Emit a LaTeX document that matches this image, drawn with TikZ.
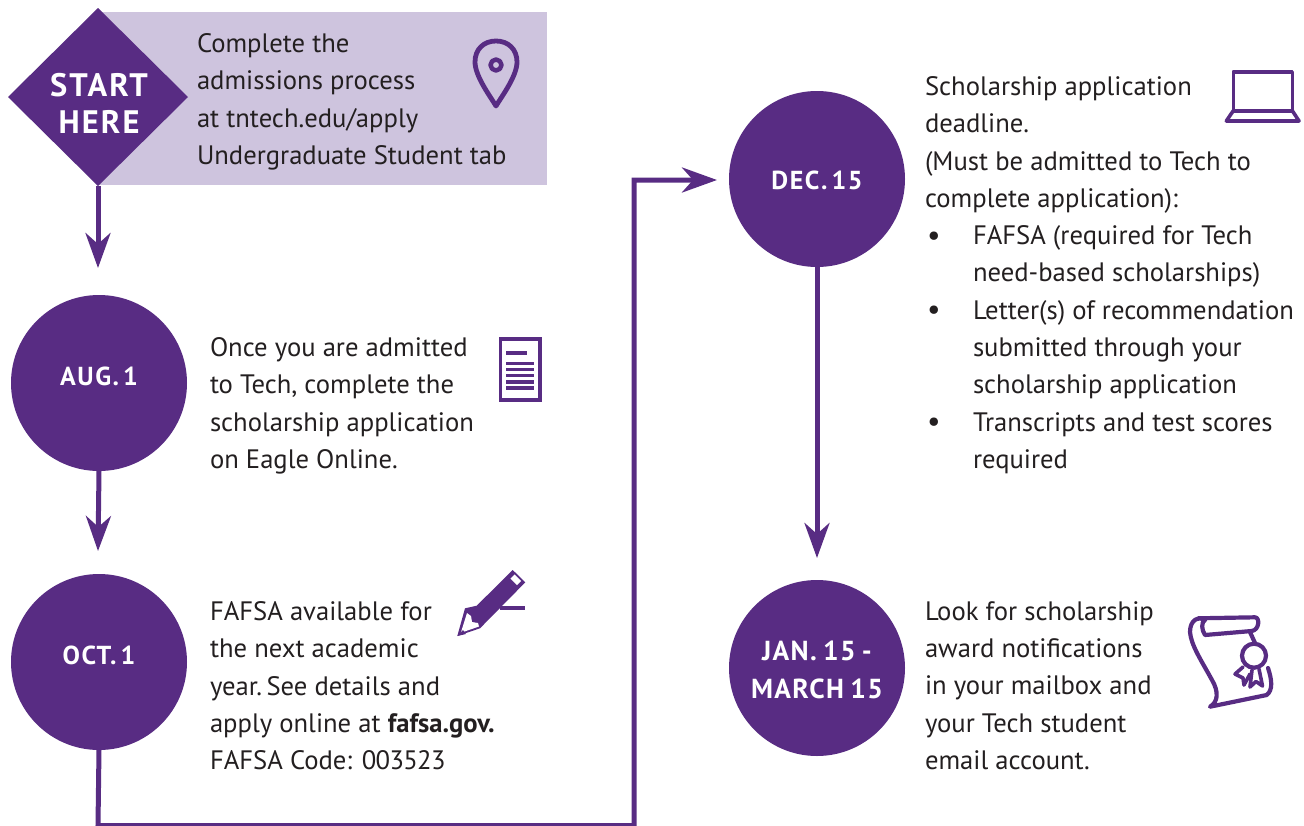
\documentclass[tikz,border=0pt]{standalone}
\usepackage{fontspec}
\setmainfont{PT Sans}
\newfontfamily\labfam[WordSpace=0.5,LetterSpace=6]{PT Sans}
\newfontfamily\janfam[WordSpace=0.75,LetterSpace=5]{PT Sans}
\newfontfamily\bigfam[LetterSpace=6.5]{PT Sans}
\usetikzlibrary{shapes.geometric,arrows.meta}
\definecolor{tpurple}{HTML}{582C83}
\definecolor{tlilac}{HTML}{CEC4DE}
\definecolor{tink}{HTML}{231F20}
\newcommand{\bodyfont}{\fontsize{26.65}{37.3}\selectfont}
\newcommand{\labfont}{\labfam\fontsize{26}{38}\selectfont\bfseries}
\newcommand{\janfont}{\janfam\fontsize{27.5}{38}\selectfont\bfseries}
\newcommand{\bigfont}{\bigfam\fontsize{32.5}{37}\selectfont\bfseries}
\newcommand{\bul}{\hspace*{2pt}\makebox[46pt][l]{\raisebox{-0.5pt}{\fontsize{30}{30}\selectfont•}}}
\tikzset{
  every node/.style={inner sep=0pt,outer sep=0pt},
  body/.style={anchor=north west,align=left,text=tink,font=\bodyfont},
  datecircle/.style={circle,fill=tpurple,minimum size=176pt},
  datelabel/.style={text=white,align=center,font=\labfont},
  startdiamond/.style={diamond,aspect=1,fill=tpurple,minimum width=180pt,minimum height=178pt},
  startlabel/.style={text=white,align=center,font=\bigfont},
  flow/.style={draw=tpurple,line width=5pt,-{Stealth[length=35pt,width=25pt,inset=11pt]}},
  icon/.style={draw=tpurple,line width=4.2pt,line join=round,line cap=round}
}
\begin{document}
\begin{tikzpicture}[x=1pt,y=-1pt]
\useasboundingbox (0,0) rectangle (1304,825);
% band
\fill[tlilac] (98,12) rectangle (547,185);
% shapes
\node[startdiamond] (start) at (98,97) {};
\node[datecircle] (aug) at (99,383) {};
\node[datecircle] (oct) at (99,662) {};
\node[datecircle] (dec) at (817,179) {};
\node[datecircle] (jan) at (817,668) {};
% shape labels
\node[startlabel] (l-start) at ([yshift=-6pt,xshift=1pt]start.center) {START\\HERE};
\node[datelabel] (l-aug) at ([yshift=7pt]aug.center) {AUG. 1};
\node[datelabel] (l-oct) at ([yshift=7pt]oct.center) {OCT. 1};
\node[datelabel] (l-dec) at ([yshift=-1pt]dec.center) {DEC. 15};
\node[datelabel,font=\janfont] (l-jan) at ([yshift=-2pt]jan.center) {JAN. 15 -\\MARCH 15};
% free ends
\coordinate (t1) at (98,268);
\coordinate (t2) at (98,551);
\coordinate (t3) at (817,558);
\coordinate (t4) at (717,180);
\coordinate (c1) at (98,825.5);
\coordinate (c2) at (634,825.5);
\coordinate (c3) at (634,180);
% connectors
\draw[flow] (start.south) -- (t1);
\draw[flow] (aug.south) -- (t2);
\draw[flow] (dec.south) -- (t3);
\draw[flow,line join=miter] (oct.south) -- (c1) -- (c2) -- (c3) -- (t4);
% text
\node[body] (t-start) at (197,33.5) {Complete the\\admissions process\\at tntech.edu/apply\\Undergraduate Student tab};
\node[body] (t-aug) at (210,337.5) {Once you are admitted\\to Tech, complete the\\scholarship application\\on Eagle Online.};
\node[body] (t-oct) at (210,601.5) {FAFSA available for\\the next academic\\year.\hspace{4.5pt}See details and\\apply online at \textbf{fafsa.gov.}\\FAFSA Code: {\addfontfeature{LetterSpace=-2.5}003523}};
\node[body] (t-dec) at (925,76.5) {Scholarship application\\deadline.\\(Must be admitted to Tech to\\complete application):\\
\bul FAFSA (required for Tech\\\hspace*{48pt}need-based scholarships)\\
\bul Letter(s) of recommendation\\\hspace*{48pt}submitted through your\\\hspace*{48pt}scholarship application\\
\bul Transcripts and test scores\\\hspace*{48pt}required};
\node[body] (t-jan) at (925,601.5) {Look for scholarship\\award notifications\\in your mailbox and\\your Tech student\\email account.};
% pin icon
\draw[icon,line width=4.8pt] (496,106) .. controls (490,96) and (475,76) .. (475,62) .. controls (475,49) and (484,41) .. (496,41) .. controls (508,41) and (517,49) .. (517,62) .. controls (517,76) and (502,96) .. (496,106) -- cycle;
\draw[icon,line width=4.5pt] (496,65) circle (5.5pt);
% document icon
\draw[icon,line width=3.5pt,line cap=butt,line join=miter] (500.5,339) rectangle (540,400);
\foreach \yy/\xe in {353/526.7,363.3/534.3,369.5/534.3,375.7/534.3,381.9/534.3,388/534.3}
  \draw[tpurple,line width=3.4pt] (506,\yy) -- (\xe,\yy);
% pencil icon
\fill[tpurple] (512.7,570) -- (525.3,582.3) -- (480,628.3) -- (457.3,636) -- (465,608.3) -- (476.7,605.7) -- cycle;
\fill[white] (460.8,632.8) -- (467,613) -- (471,616) -- (472,622) -- (478,623) -- (479,626.5) -- cycle;
\fill[tpurple] (457.3,636) -- (463,630) -- (466,634) -- cycle;
\draw[white,line width=6pt] (512.5,576.5) -- (519,583);
\draw[tpurple,line width=4pt] (500,607.7) -- (525.3,607.7);
% laptop icon
\draw[icon,line width=3.6pt] (1233.3,110.7) -- (1233.3,71.7) -- (1292.3,71.7) -- (1292.3,110.7) -- cycle;
\draw[icon,line width=3.6pt] (1233.3,110.7) -- (1226.3,121) -- (1299,121) -- (1292.3,110.7);
% scroll icon
\draw[icon] (1198.3,618.3) -- (1255,617.3) .. controls (1260,617.3) and (1259.5,630) .. (1251.7,631) -- (1205,635)
  .. controls (1201.5,630) and (1201,622) .. (1205,620) .. controls (1198,616) and (1190,620) .. (1190,632)
  .. controls (1191,645) and (1201,660) .. (1212,680) .. controls (1219,692) and (1218,702) .. (1210,706.7)
  -- (1266.7,695) .. controls (1273,690) and (1272,680) .. (1268,668);
\draw[icon] (1250,632) -- (1255,643);
\draw[icon] (1254,655.7) circle (12pt);
\draw[icon,line width=3.6pt] (1243,667) -- (1235,674) -- (1243,678) -- (1244,685) -- (1250,674);
\draw[icon,line width=3.6pt] (1252,670) -- (1250,687) -- (1256,681.5) -- (1262.5,686) -- (1259,669);
\end{tikzpicture}
\end{document}
